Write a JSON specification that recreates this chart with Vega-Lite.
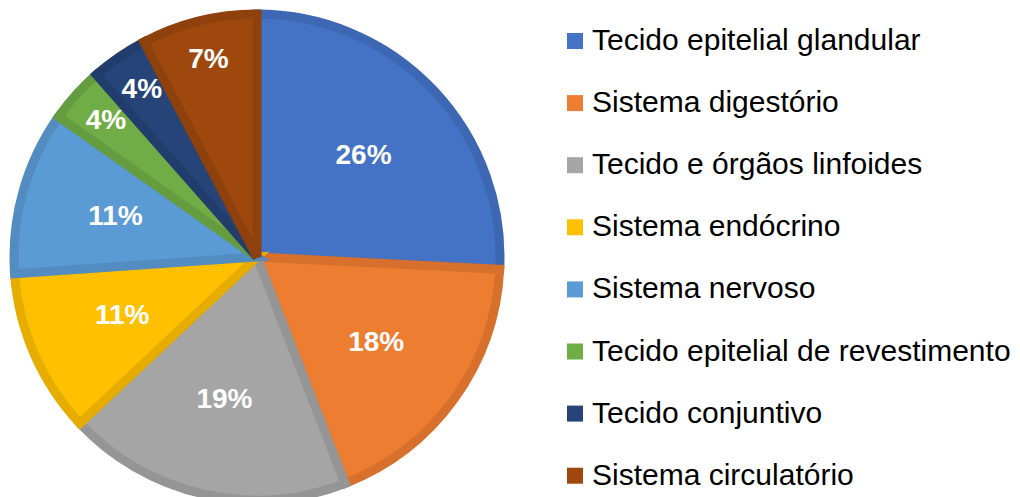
{
  "$schema": "https://vega.github.io/schema/vega-lite/v6.json",
  "width": 514,
  "height": 514,
  "autosize": {"type": "none"},
  "padding": {"left": 0, "top": 0, "right": 506, "bottom": 0},
  "background": "white",
  "config": {"view": {"stroke": null}, "font": "Liberation Sans"},
  "data": {
    "values": [
      {"category": "Tecido epitelial glandular", "value": 25.8, "label": "26%", "order": 1},
      {"category": "Sistema digestório", "value": 18.3, "label": "18%", "order": 2},
      {"category": "Tecido e órgãos linfoides", "value": 18.9, "label": "19%", "order": 3},
      {"category": "Sistema endócrino", "value": 10.9, "label": "11%", "order": 4},
      {"category": "Sistema nervoso", "value": 10.9, "label": "11%", "order": 5},
      {"category": "Tecido epitelial de revestimento", "value": 3.7, "label": "4%", "order": 6},
      {"category": "Tecido conjuntivo", "value": 3.8, "label": "4%", "order": 7},
      {"category": "Sistema circulatório", "value": 7.7, "label": "7%", "order": 8}
    ]
  },
  "encoding": {
    "theta": {"field": "value", "type": "quantitative", "stack": true},
    "order": {"field": "order", "type": "quantitative"}
  },
  "layer": [
    {
      "mark": {"type": "arc", "outerRadius": 243, "strokeWidth": 9, "strokeJoin": "miter"},
      "encoding": {
        "fill": {
          "field": "category",
          "type": "nominal",
          "sort": null,
          "scale": {
            "domain": ["Tecido epitelial glandular", "Sistema digestório", "Tecido e órgãos linfoides", "Sistema endócrino", "Sistema nervoso", "Tecido epitelial de revestimento", "Tecido conjuntivo", "Sistema circulatório"],
            "range": ["#4472C4", "#ED7D31", "#A5A5A5", "#FFC000", "#5B9BD5", "#70AD47", "#264478", "#9E480E"]
          },
          "legend": {
            "orient": "none",
            "legendX": 560,
            "legendY": 26,
            "title": null,
            "symbolType": "square",
            "symbolSize": 256,
            "symbolStrokeWidth": 0,
            "labelFontSize": 30,
            "labelColor": "#000000",
            "labelFont": "Liberation Sans",
            "labelLimit": 0,
            "labelOffset": 2,
            "rowPadding": 32.1
          }
        },
        "stroke": {
          "field": "category",
          "type": "nominal",
          "sort": null,
          "scale": {
            "domain": ["Tecido epitelial glandular", "Sistema digestório", "Tecido e órgãos linfoides", "Sistema endócrino", "Sistema nervoso", "Tecido epitelial de revestimento", "Tecido conjuntivo", "Sistema circulatório"],
            "range": ["#3D67B2", "#D6702C", "#959595", "#E6AD00", "#528CC0", "#659C40", "#223D6C", "#8E410D"]
          },
          "legend": null
        }
      }
    },
    {
      "mark": {"type": "text", "radius": 147, "fontSize": 28, "fontWeight": "bold", "fill": "white", "font": "Liberation Sans"},
      "encoding": {
        "text": {"condition": {"test": "datum.value >= 10", "field": "label"}, "value": ""}
      }
    },
    {
      "mark": {"type": "text", "radius": 203, "fontSize": 28, "fontWeight": "bold", "fill": "white", "font": "Liberation Sans"},
      "encoding": {
        "text": {"condition": {"test": "datum.value < 10", "field": "label"}, "value": ""}
      }
    }
  ]
}
